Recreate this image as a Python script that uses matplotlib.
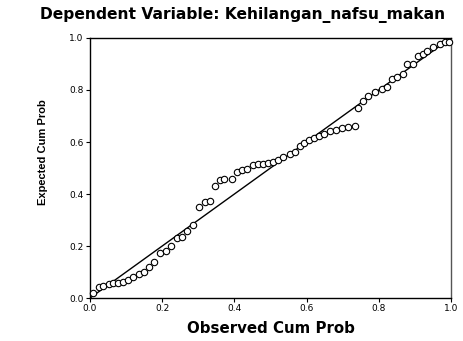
import matplotlib
matplotlib.use("Agg")
import matplotlib.pyplot as plt

plt.rcParams['font.family'] = ['Liberation Sans', 'DejaVu Sans']

observed = [0.007, 0.026, 0.036, 0.053, 0.064, 0.078, 0.091, 0.105, 0.119, 0.136,
            0.150, 0.163, 0.177, 0.194, 0.211, 0.224, 0.241, 0.255, 0.269, 0.285,
            0.302, 0.319, 0.332, 0.346, 0.360, 0.371, 0.393, 0.407, 0.421, 0.435,
            0.452, 0.465, 0.479, 0.493, 0.507, 0.521, 0.535, 0.554, 0.568, 0.582,
            0.593, 0.607, 0.620, 0.634, 0.648, 0.665, 0.681, 0.698, 0.715, 0.734,
            0.742, 0.756, 0.770, 0.789, 0.809, 0.823, 0.837, 0.850, 0.867, 0.878,
            0.895, 0.909, 0.922, 0.934, 0.950, 0.970, 0.983, 0.994]
expected = [0.018, 0.044, 0.046, 0.054, 0.058, 0.058, 0.062, 0.069, 0.081, 0.093,
            0.100, 0.120, 0.139, 0.174, 0.181, 0.201, 0.232, 0.236, 0.259, 0.282,
            0.351, 0.371, 0.375, 0.432, 0.452, 0.459, 0.459, 0.486, 0.494, 0.498,
            0.510, 0.514, 0.517, 0.521, 0.525, 0.529, 0.541, 0.552, 0.560, 0.583,
            0.598, 0.606, 0.614, 0.622, 0.629, 0.641, 0.645, 0.653, 0.656, 0.660,
            0.730, 0.757, 0.776, 0.792, 0.803, 0.811, 0.842, 0.849, 0.861, 0.900,
            0.900, 0.931, 0.938, 0.950, 0.965, 0.977, 0.985, 0.985]
ref_line = [0.0, 1.0]
ticks = [0.0, 0.2, 0.4, 0.6, 0.8, 1.0]
tick_labels = ["0.0", "0.2", "0.4", "0.6", "0.8", "1.0"]

fig = plt.figure(figsize=(4.63, 3.41), dpi=100)
ax = fig.add_axes([0.1944, 0.126, 0.974 - 0.1944, 0.8886 - 0.126])

ax.plot(ref_line, ref_line, color='black', lw=1.0, zorder=2)
ax.plot(observed, expected, 'o', ms=4.6, mfc='white', mec='black', mew=0.8,
        clip_on=False, zorder=3)

ax.set_xlim(0, 1)
ax.set_ylim(0, 1)
ax.set_xticks(ticks)
ax.set_xticklabels(tick_labels)
ax.set_yticks(ticks)
ax.set_yticklabels(tick_labels)
ax.tick_params(direction='out', length=3, width=0.8, labelsize=7, pad=1.5)
for lab in ax.get_xticklabels() + ax.get_yticklabels():
    lab.set_family(['DejaVu Sans'])
    lab.set_fontsize(6.5)
for s in ax.spines.values():
    s.set_linewidth(1.0)
ax.spines['right'].set_color('#555555')

ax.set_xlabel("Observed Cum Prob", fontsize=10.8, fontweight='bold',
              family=['DejaVu Sans'])
ax.xaxis.set_label_coords(0.5, -0.09)
ax.set_ylabel("Expected Cum Prob", fontsize=8, fontweight='bold')
ax.yaxis.set_label_coords(-0.115, 0.56)

fig.text(0.523, 0.956, "Dependent Variable: Kehilangan_nafsu_makan",
         ha='center', va='center', fontsize=11.2, fontweight='bold',
         family=['DejaVu Sans'])

fig.savefig("out.png", dpi=100, facecolor='white')
